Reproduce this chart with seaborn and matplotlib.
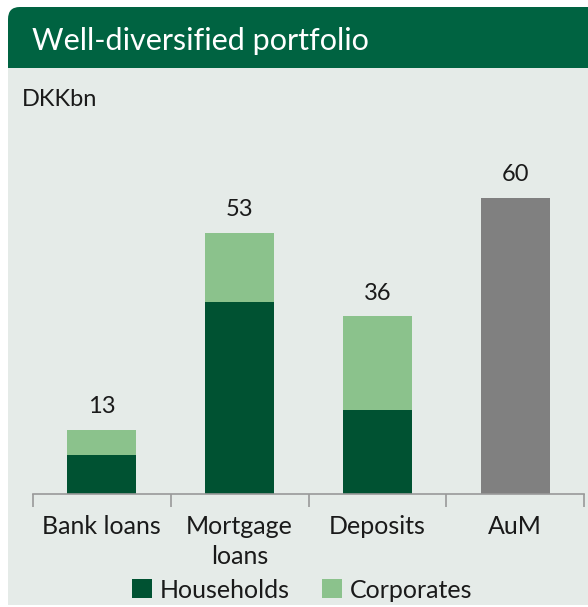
import numpy as np
import pandas as pd
import matplotlib
matplotlib.use("Agg")
import matplotlib.pyplot as plt
from matplotlib.patches import FancyBboxPatch, Rectangle, Patch
import seaborn as sns

# -----------------------------
# Data
# -----------------------------
categories = ["Bank loans", "Mortgage\nloans", "Deposits", "AuM"]
households = [8, 39, 17, 0]
corporates = [5, 14, 19, 0]
aum = [0, 0, 0, 60]
totals = [h + c + a for h, c, a in zip(households, corporates, aum)]

DARK = "#005232"
LIGHT = "#8bc28c"
GREY = "#808080"
HEADER = "#006341"
PANEL = "#e5ebe8"
TEXT = "#1a1a1a"

sns.set_theme(style="white")
plt.rcParams["font.family"] = ["Lato", "DejaVu Sans"]

W, H = 588, 607
fig = plt.figure(figsize=(W / 100, H / 100), dpi=100)
fig.patch.set_facecolor("white")

# -----------------------------
# Panel background + header
# -----------------------------
fig.patches.append(Rectangle((8 / W, 2 / H), 1, (605 - 68) / H,
                             transform=fig.transFigure, facecolor=PANEL,
                             edgecolor="none", zorder=0))
fig.patches.append(FancyBboxPatch((8 / W, (H - 68) / H), 1.2, (68 - 7) / H,
                                  boxstyle="round,pad=0,rounding_size=0.02",
                                  transform=fig.transFigure, facecolor=HEADER,
                                  edgecolor="none", zorder=1))
fig.patches.append(Rectangle((8 / W, (H - 68) / H), 0.2, 0.02,
                             transform=fig.transFigure, facecolor=HEADER,
                             edgecolor="none", zorder=1))
fig.text(32 / W, 1 - 41 / H, "Well-diversified portfolio", color="white",
         fontsize=22, va="center", ha="left")
fig.text(22 / W, 1 - 100 / H, "DKKbn", color=TEXT, fontsize=17,
         va="center", ha="left")

# -----------------------------
# Bars
# -----------------------------
ax = fig.add_axes([33 / W, (H - 494) / H, 551 / W, 370 / H])
ax.set_zorder(5)
ax.set_facecolor("none")

df = pd.DataFrame({"category": categories, "total": totals,
                   "households": households})
sns.barplot(data=df, x="category", y="total", order=categories,
            hue="category", palette=[LIGHT, LIGHT, LIGHT, GREY],
            legend=False, width=0.5, saturation=1, linewidth=0, ax=ax)
sns.barplot(data=df, x="category", y="households", order=categories,
            color=DARK, width=0.5, saturation=1, linewidth=0, ax=ax)

for i, t in enumerate(totals):
    ax.text(i, t + 2.6, f"{t}", ha="center", va="bottom", fontsize=17,
            color=TEXT)

ax.set_xlim(-0.5, 3.5)
ax.set_ylim(0, 75)
ax.set_xlabel("")
ax.set_ylabel("")
ax.set_yticks([])
for s in ["top", "right", "left"]:
    ax.spines[s].set_visible(False)
ax.spines["bottom"].set_color("#999999")
ax.spines["bottom"].set_linewidth(1.2)
ax.set_xticks(range(len(categories)))
ax.set_xticklabels(categories, fontsize=18, color=TEXT, linespacing=1.4)
ax.set_xticks(np.arange(-0.5, 4, 1), minor=True)
ax.tick_params(axis="x", which="major", length=0, pad=15)
ax.tick_params(axis="x", which="minor", length=9, width=1.2,
               color="#999999", direction="out", bottom=True)

handles = [Patch(facecolor=DARK, edgecolor="none"),
           Patch(facecolor=LIGHT, edgecolor="none")]
fig.legend(handles, ["Households", "Corporates"], loc="center",
           bbox_to_anchor=(302 / W, 1 - 590 / H), ncol=2, frameon=False,
           fontsize=18, handlelength=0.8, handleheight=0.8,
           handletextpad=0.3, columnspacing=1.3, labelcolor=TEXT)

fig.savefig("out.png", dpi=100)
